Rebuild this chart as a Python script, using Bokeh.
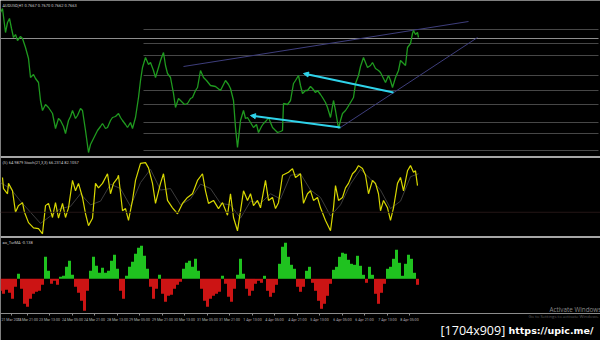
from bokeh.plotting import figure
from bokeh.models import Range1d, Span, Label, FixedTicker, ColumnDataSource, Arrow, NormalHead
from bokeh.embed import file_html
from bokeh.resources import INLINE

# ---------------- data ----------------
price_x = [0, 2, 5, 7, 9, 11, 13, 15, 17, 20,
           22, 25, 28, 30, 33, 35, 38, 40, 42, 45,
           48, 50, 52, 55, 58, 60, 63, 65, 68, 70,
           72, 75, 77, 80, 82, 85, 88, 90, 92, 95,
           97, 100, 102, 105, 107, 110, 112, 115, 118, 120,
           122, 125, 127, 130, 132, 135, 138, 140, 142, 145,
           148, 150, 153, 155, 158, 160, 163, 165, 167, 170,
           173, 175, 178, 180, 184, 187, 190, 192, 195, 197,
           200, 203, 206, 210, 215, 220, 223, 225, 228, 230,
           233, 235, 237, 240, 243, 245, 247, 250, 253, 256,
           258, 261, 263, 266, 268, 270, 272, 275, 277, 280,
           282, 283, 287, 290, 293, 295, 298, 300, 302, 305,
           307, 310, 312, 315, 317, 320, 322, 325, 327, 330,
           333, 335, 338, 340, 342, 345, 347, 350, 353, 355,
           358, 360, 363, 365, 367, 370, 372, 375, 378, 380,
           383, 385, 388, 390, 392, 395, 398, 400, 402, 405,
           407, 410, 412, 413, 415, 417, 418]
close = [0.7688, 0.7692, 0.7668, 0.7678, 0.7682, 0.7672, 0.7663, 0.7666, 0.7660, 0.7664,
         0.7662, 0.7653, 0.7642, 0.7623, 0.7626, 0.7622, 0.7618, 0.7600, 0.7590, 0.7596,
         0.7593, 0.7590, 0.7587, 0.7572, 0.7582, 0.7580, 0.7574, 0.7567, 0.7580, 0.7584,
         0.7590, 0.7582, 0.7585, 0.7592, 0.7590, 0.7570, 0.7548, 0.7556, 0.7560, 0.7566,
         0.7570, 0.7574, 0.7577, 0.7572, 0.7573, 0.7580, 0.7583, 0.7584, 0.7587, 0.7583,
         0.7580, 0.7576, 0.7573, 0.7578, 0.7572, 0.7583, 0.7603, 0.7620, 0.7633, 0.7643,
         0.7636, 0.7638, 0.7630, 0.7623, 0.7633, 0.7640, 0.7648, 0.7635, 0.7627, 0.7623,
         0.7607, 0.7593, 0.7602, 0.7600, 0.7596, 0.7597, 0.7602, 0.7603, 0.7610, 0.7613,
         0.7630, 0.7623, 0.7620, 0.7615, 0.7614, 0.7610, 0.7616, 0.7620, 0.7616, 0.7612,
         0.7600, 0.7573, 0.7553, 0.7580, 0.7590, 0.7582, 0.7583, 0.7578, 0.7573, 0.7576,
         0.7568, 0.7574, 0.7577, 0.7580, 0.7583, 0.7578, 0.7573, 0.7570, 0.7568, 0.7569,
         0.7570, 0.7597, 0.7596, 0.7600, 0.7617, 0.7620, 0.7625, 0.7615, 0.7607, 0.7610,
         0.7610, 0.7614, 0.7612, 0.7608, 0.7610, 0.7606, 0.7603, 0.7598, 0.7593, 0.7583,
         0.7600, 0.7590, 0.7572, 0.7580, 0.7587, 0.7590, 0.7593, 0.7598, 0.7603, 0.7617,
         0.7625, 0.7634, 0.7643, 0.7638, 0.7633, 0.7635, 0.7638, 0.7632, 0.7630, 0.7628,
         0.7622, 0.7618, 0.7625, 0.7620, 0.7613, 0.7623, 0.7630, 0.7640, 0.7638, 0.7635,
         0.7653, 0.7657, 0.7667, 0.7670, 0.7666, 0.7668, 0.7663]

# horizontal price levels (start bar, price)
level_start = [143, 0, 143, 143, 143, 143, 143, 143, 143, 143]
level_price = [0.7671, 0.7662, 0.7657, 0.7645, 0.7625, 0.7610, 0.7596, 0.7578, 0.7567, 0.7550]
level_color = ["#474747", "#8e8e8e", "#474747", "#474747", "#474747",
               "#474747", "#474747", "#474747", "#474747", "#474747"]

# trend lines (x0, p0, x1, p1)
trend_x0 = [183, 340]
trend_p0 = [0.7634, 0.7573]
trend_x1 = [468, 477]
trend_p1 = [0.7679, 0.7663]

# cyan arrowed lines
arrow_x0 = [393, 340]
arrow_p0 = [0.7608, 0.7573]
arrow_x1 = [303, 250]
arrow_p1 = [0.7627, 0.7585]

# stochastic main and signal
stoch_x = [2, 3, 7, 8, 12, 15, 18, 22, 24, 28,
           33, 38, 42, 45, 48, 52, 55, 58, 62, 65,
           68, 72, 75, 78, 82, 85, 88, 92, 95, 98,
           102, 107, 110, 113, 117, 118, 122, 125, 128, 132,
           135, 140, 145, 148, 152, 155, 160, 163, 167, 172,
           177, 182, 187, 192, 197, 202, 205, 208, 213, 218,
           222, 227, 230, 233, 237, 240, 243, 247, 250, 253,
           257, 260, 265, 268, 272, 275, 278, 282, 285, 288,
           292, 295, 298, 300, 303, 307, 310, 313, 317, 320,
           325, 330, 333, 335, 338, 342, 345, 348, 352, 355,
           358, 362, 365, 368, 372, 375, 378, 380, 383, 387,
           390, 393, 397, 400, 403, 407, 410, 413, 415, 417]
stoch_k = [77, 62, 55, 69, 59, 30, 39, 43, 30, 16,
           9, 8, 1, 39, 42, 23, 43, 22, 42, 23,
           36, 73, 59, 69, 50, 28, 12, 22, 69, 63,
           69, 82, 55, 69, 76, 80, 32, 35, 19, 46,
           73, 96, 97, 90, 69, 42, 69, 82, 46, 36,
           28, 42, 50, 55, 73, 82, 59, 42, 46, 35,
           43, 26, 55, 23, 5, 32, 59, 46, 55, 39,
           46, 36, 73, 46, 50, 35, 43, 80, 82, 84,
           89, 77, 80, 82, 42, 55, 59, 46, 50, 36,
           19, 5, 36, 66, 46, 50, 63, 69, 82, 86,
           93, 89, 80, 55, 73, 69, 55, 32, 46, 36,
           19, 36, 69, 77, 59, 86, 93, 84, 86, 66]
sig_x = [0, 10, 20, 30, 40, 50, 60, 70, 80, 90,
         100, 110, 120, 130, 140, 150, 160, 170, 180, 190,
         200, 210, 220, 230, 240, 250, 260, 270, 280, 290,
         300, 310, 320, 330, 340, 350, 360, 370, 380, 390,
         400, 410, 418]
sig_d = [70, 62, 45, 30, 15, 25, 35, 38, 55, 40,
         45, 68, 62, 38, 70, 88, 60, 62, 40, 48,
         68, 62, 42, 40, 22, 45, 42, 55, 48, 80,
         82, 60, 50, 25, 40, 68, 88, 75, 60, 35,
         45, 78, 82]
stoch_level = 30

# awesome-oscillator style histogram (one value every 3 bars)
ao = [-12, -15, -11, -14, -20, -8, 5, -10, -25, -28,
      -20, -15, -13, -12, -6, 22, 8, -5, -2, -6,
      2, 3, 12, 18, 4, -8, -14, -22, -32, -12,
      8, 22, 13, 6, 11, 6, 8, 18, 24, 10,
      -12, -20, 3, 12, 17, 25, 31, 33, 23, 10,
      -8, -20, -10, 4, -15, -23, -17, -16, -10, -6,
      -3, 10, 16, 18, 12, 20, 8, -10, -22, -28,
      -20, -17, -15, -13, 3, -5, -18, -23, -10, 4,
      20, 5, -10, -17, -12, -5, -2, -4, 3, -12,
      -18, -14, -6, 15, 32, 36, 22, 14, 10, -8,
      -13, -8, 8, 12, -4, -12, -22, -30, -25, -17,
      -5, 9, 12, 22, 26, 25, 19, 15, 14, 23,
      13, 4, -4, 12, 4, -15, -25, -14, -5, 10,
      12, 20, 29, 16, 3, 15, 24, 20, 6, -6]
ao_x = list(range(0, 3 * len(ao), 3))

tick_pos = [11, 27, 49, 72, 94, 117, 139, 162, 184, 207,
            229, 252, 274, 297, 319, 342, 364, 387, 409]
tick_labels = ["21 Mar 2016", "22 Mar 21:00", "23 Mar 13:00", "24 Mar 05:00", "24 Mar 21:00",
               "28 Mar 13:00", "29 Mar 05:00", "29 Mar 21:00", "30 Mar 13:00", "31 Mar 05:00",
               "31 Mar 21:00", "1 Apr 13:00", "4 Apr 05:00", "4 Apr 21:00", "5 Apr 13:00",
               "6 Apr 05:00", "6 Apr 21:00", "7 Apr 13:00", "8 Apr 05:00"]

price_title = "AUDUSD,H1  0.7667 0.7670 0.7662 0.7663"
stoch_title = "(S) 64.9879  Stoch(21,3,3) 66.2314 82.1057"
ao_title = "ao_TurMA -0.138"

# ---------------- figure ----------------
p = figure(width=600, height=340, output_backend="svg", toolbar_location=None,
           x_range=Range1d(0, 600), y_range=Range1d(340, 0), y_axis_location=None,
           min_border_left=0, min_border_right=0, min_border_top=0, min_border_bottom=0,
           background_fill_color="black", border_fill_color="black", outline_line_color=None)
p.grid.visible = False
p.extra_y_ranges = {
    "price": Range1d(0.7360, 0.7700),
    "stoch": Range1d(-143.1, 315.9),
    "ao": Range1d(-61.7, 278.3),
}

# price panel
p.segment(x0=level_start, y0=level_price, x1=[598] * len(level_price), y1=level_price,
          line_color=level_color, line_width=1, y_range_name="price")
p.segment(x0=trend_x0, y0=trend_p0, x1=trend_x1, y1=trend_p1,
          line_color="#3e3e7c", line_width=1, y_range_name="price")
p.line(price_x, close, line_color="#1f9a1f", line_width=1.3, y_range_name="price")
asrc = ColumnDataSource(dict(x0=arrow_x0, y0=arrow_p0, x1=arrow_x1, y1=arrow_p1))
p.add_layout(Arrow(source=asrc, x_start="x0", y_start="y0", x_end="x1", y_end="y1",
                   line_color="#2fd3ea", line_width=2, y_range_name="price",
                   end=NormalHead(size=5, fill_color="#2fd3ea", line_color="#2fd3ea")))

# stochastic panel
p.add_layout(Span(location=stoch_level, dimension="width", y_range_name="stoch",
                  line_color="#241616", line_width=1))
p.line(sig_x, sig_d, line_color="#3c3c3c", line_width=1, y_range_name="stoch")
p.line(stoch_x, stoch_k, line_color="#d8d800", line_width=1.2, y_range_name="stoch")

# oscillator panel
ao_colors = ["#1fc21f" if v > 0 else "#cc1414" for v in ao]
p.vbar(x=ao_x, top=ao, bottom=0, width=3, fill_color=ao_colors, line_color=None,
       y_range_name="ao")

# separators
for loc in (156.5, 236.5):
    p.add_layout(Span(location=loc, dimension="width", line_color="#a6a6a6", line_width=2))

# axis drawn at the bottom of the chart area
ax = p.xaxis[0]
ax.fixed_location = 313
ax.ticker = FixedTicker(ticks=tick_pos)
ax.major_label_overrides = {t: s for t, s in zip(tick_pos, tick_labels)}
ax.axis_line_color = "#8c8c8c"
ax.major_tick_line_color = "#8c8c8c"
ax.major_tick_in = 0
ax.major_tick_out = 2
ax.minor_tick_line_color = None
ax.major_label_text_color = "#b4b4b4"
ax.major_label_text_font = "Roboto"
ax.major_label_text_font_size = "3.6px"
ax.major_label_standoff = 2

# panel titles
for txt, yy in ((price_title, 2), (stoch_title, 159), (ao_title, 239)):
    p.add_layout(Label(x=2, y=yy, text=txt, text_color="#c8c8c8", text_font="Roboto",
                       text_font_size="4px", text_baseline="top"))

# overlays
p.add_layout(Label(x=549, y=308.5, text="Activate Windows", text_color="#8a8a8a",
                   text_font="Open Sans", text_font_size="6.3px", text_baseline="middle"))
p.add_layout(Label(x=528, y=315.5, text="Go to Settings to activate Windows.", text_color="#5a5a5a",
                   text_font="Open Sans", text_font_size="4.3px", text_baseline="middle"))
p.add_layout(Label(x=440, y=330, text="[1704x909]", text_color="#ffffff",
                   text_font="Open Sans", text_font_size="12.5px", text_baseline="middle"))
p.add_layout(Label(x=508, y=330, text="https://upic.me/", text_color="#ffffff",
                   text_font="DejaVu Sans", text_font_size="9.5px", text_font_style="bold",
                   text_baseline="middle"))

open("out.html", "w").write(file_html(p, INLINE))
